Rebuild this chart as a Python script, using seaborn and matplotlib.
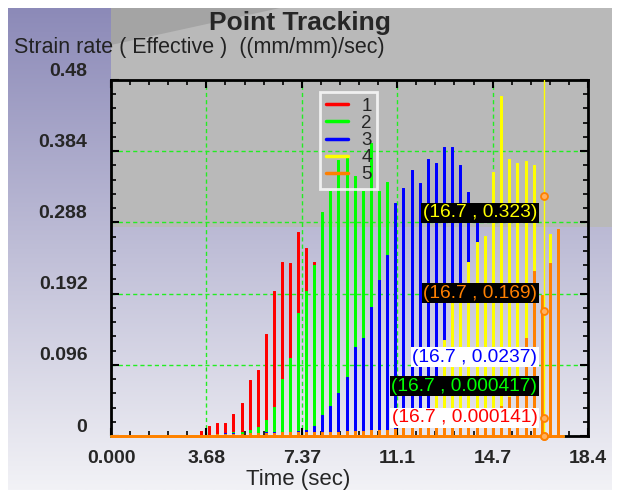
import numpy as np
import pandas as pd
import matplotlib
matplotlib.use("Agg")
import matplotlib.pyplot as plt
import seaborn as sns
from matplotlib.patches import Rectangle, Polygon
from matplotlib.lines import Line2D
from matplotlib.ticker import AutoMinorLocator
import matplotlib.transforms as mtransforms

# spike times (sec), shared by all five tracked points
spike_time = [3.47, 3.78, 4.09, 4.40, 4.71, 5.05, 5.36, 5.67, 5.98, 6.29,
              6.60, 6.91, 7.21, 7.52, 7.83, 8.14, 8.45, 8.76, 9.10, 9.41,
              9.72, 10.03, 10.34, 10.65, 10.96, 11.27, 11.61, 11.92, 12.23, 12.54,
              12.85, 13.16, 13.46, 13.77, 14.12, 14.43, 14.74, 15.05, 15.36, 15.66,
              16.01, 16.32, 16.63, 16.94, 17.25]
t_end = 17.45

rate_1 = [0.007, 0.014, 0.018, 0.018, 0.030, 0.044, 0.076, 0.089, 0.138, 0.196,
          0.235, 0.233, 0.275, 0.253, 0.235, 0.150, 0.100, 0.070, 0.050, 0.035,
          0.025, 0.018, 0.012, 0.009, 0.007, 0.005, 0.004, 0.003, 0.002, 0.002,
          0.001, 0.001, 0.001, 0.001, 0.001, 0.001, 0.001, 0.001, 0.001, 0.001,
          0.001, 0.001, 0.001, 0.001, 0.001]
rate_2 = [0.001, 0.002, 0.003, 0.004, 0.005, 0.006, 0.008, 0.012, 0.022, 0.039,
          0.077, 0.105, 0.166, 0.196, 0.230, 0.302, 0.330, 0.372, 0.375, 0.350,
          0.330, 0.395, 0.330, 0.342, 0.250, 0.160, 0.090, 0.050, 0.030, 0.020,
          0.012, 0.008, 0.006, 0.005, 0.004, 0.003, 0.002, 0.002, 0.001, 0.001,
          0.001, 0.001, 0.001, 0.001, 0.001]
rate_3 = [0.001, 0.001, 0.002, 0.004, 0.004, 0.003, 0.004, 0.004, 0.005, 0.005,
          0.006, 0.006, 0.007, 0.008, 0.013, 0.028, 0.040, 0.058, 0.079, 0.120,
          0.132, 0.174, 0.210, 0.244, 0.314, 0.334, 0.359, 0.341, 0.374, 0.368,
          0.390, 0.390, 0.365, 0.329, 0.287, 0.100, 0.050, 0.030, 0.020, 0.015,
          0.010, 0.008, 0.006, 0.004, 0.003]
rate_4 = [0.001, 0.001, 0.001, 0.001, 0.001, 0.001, 0.001, 0.001, 0.002, 0.002,
          0.002, 0.002, 0.002, 0.002, 0.003, 0.003, 0.003, 0.003, 0.003, 0.003,
          0.004, 0.004, 0.004, 0.004, 0.005, 0.006, 0.008, 0.012, 0.030, 0.060,
          0.129, 0.180, 0.200, 0.235, 0.262, 0.269, 0.356, 0.458, 0.374, 0.368,
          0.371, 0.365, 0.150, 0.272, 0.100]
rate_5 = [0.002, 0.002, 0.003, 0.003, 0.003, 0.003, 0.004, 0.004, 0.004, 0.004,
          0.005, 0.005, 0.005, 0.005, 0.006, 0.006, 0.006, 0.006, 0.007, 0.007,
          0.007, 0.008, 0.008, 0.008, 0.010, 0.012, 0.014, 0.016, 0.018, 0.020,
          0.022, 0.024, 0.026, 0.028, 0.030, 0.030, 0.035, 0.040, 0.053, 0.060,
          0.132, 0.222, 0.190, 0.233, 0.279]

series_names = ["1", "2", "3", "4", "5"]
series_colors = ["#ff0000", "#00ff00", "#0000ff", "#ffff00", "#ff8000"]

# probe readout at the cursor time
cursor_time = 16.7
probe_value = [0.323, 0.169, 0.0237, 0.000417, 0.000141]
probe_text = ["0.323", "0.169", "0.0237", "0.000417", "0.000141"]
probe_color = ["#ffff00", "#ff8000", "#0000ff", "#00ff00", "#ff0000"]
probe_box = ["black", "black", "white", "black", "white"]
probe_label_y = [0.3007, 0.1928, 0.1065, 0.0674, 0.0243]

x_ticks = [0.0, 3.68, 7.36, 11.04, 14.72, 18.4]
x_tick_labels = ["0.000", "3.68", "7.37", "11.1", "14.7", "18.4"]
y_ticks = [0.0, 0.096, 0.192, 0.288, 0.384, 0.48]
y_tick_labels = ["0", "0.096", "0.192", "0.288", "0.384", "0.48"]

# build spike traces: each spike goes 0 -> peak -> 0
frames = []
t = np.asarray(spike_time)
for name, vals in zip(series_names, [rate_1, rate_2, rate_3, rate_4, rate_5]):
    v = np.asarray(vals)
    xs = np.concatenate([[0.0], np.repeat(t, 3), [t_end]])
    ys = np.concatenate([[0.0], np.column_stack([np.zeros_like(v), v, np.zeros_like(v)]).ravel(), [0.0]])
    frames.append(pd.DataFrame({"time": xs, "rate": ys, "series": name}))
df = pd.concat(frames, ignore_index=True)

sns.set_style("ticks")
plt.rcParams['font.family'] = ['Liberation Sans', 'DejaVu Sans']

W, H = 622, 493
fig = plt.figure(figsize=(W / 100, H / 100), dpi=100)
fig.patch.set_facecolor("white")

# background panel
bg = fig.add_axes([0, 0, 1, 1], zorder=-1)
bg.set_xlim(0, W)
bg.set_ylim(H, 0)
bg.axis("off")
top_c = np.array([140, 138, 184]) / 255
bot_c = np.array([242, 242, 246]) / 255
f = np.linspace(0, 1, 256)[:, None]
grad = (top_c[None, :] * (1 - f) + bot_c[None, :] * f)[:, None, :]
bg.imshow(grad, extent=(8, 612, 490, 8), aspect="auto", interpolation="bilinear")
bg.add_patch(Rectangle((111, 8), 501, 219, color="#b9b9b9", lw=0))
bg.add_patch(Polygon([(111, 8), (280, 8), (111, 45)], closed=True, color="#a4a4a4", lw=0))

ax = fig.add_axes([111 / W, 1 - 436 / H, 477 / W, 356 / H])
ax.set_facecolor("none")

sns.lineplot(data=df, x="time", y="rate", hue="series", hue_order=series_names,
             palette=dict(zip(series_names, series_colors)), estimator=None,
             sort=False, legend=False, linewidth=2.1, ax=ax)
for ln in ax.lines:
    ln.set_clip_on(False)
    ln.set_zorder(3)
    ln.set_solid_joinstyle("miter")

ax.axvline(cursor_time, color="#ffff00", lw=1, zorder=4)
ax.plot([cursor_time] * len(probe_value), probe_value, "o", ms=5, mfc="#ffb060",
        mec="#ff8000", mew=1.3, ls="none", zorder=6, clip_on=False)
for txt, col, box, ly in zip(probe_text, probe_color, probe_box, probe_label_y):
    ax.text(16.45, ly, f"({cursor_time} , {txt})", color=col, fontsize=13.8,
            ha="right", va="center", zorder=7,
            bbox=dict(boxstyle="square,pad=0.1", fc=box, ec="none"))

ax.set_xlim(0, 18.4)
ax.set_ylim(0, 0.48)
ax.set_xticks(x_ticks)
ax.set_xticklabels(x_tick_labels, fontsize=14, fontweight="bold")
ax.set_yticks(y_ticks)
ax.set_yticklabels(y_tick_labels, fontsize=14, fontweight="bold")
ax.xaxis.set_minor_locator(AutoMinorLocator(5))
ax.yaxis.set_minor_locator(AutoMinorLocator(5))
ax.tick_params(which="both", direction="in", top=True, right=True, color="black")
ax.tick_params(which="major", length=6, width=1.5)
ax.tick_params(which="minor", length=3.5, width=1.2)
ax.tick_params(axis="x", which="major", pad=10)
ax.tick_params(axis="y", which="major", pad=17)
shift = mtransforms.ScaledTranslation(0, 11 / 100, fig.dpi_scale_trans)
for lab in ax.get_yticklabels():
    lab.set_transform(lab.get_transform() + shift)

ax.grid(True, which="major", color="#22ee22", lw=1, linestyle=(0, (3, 2.2)))
for s in ax.spines.values():
    s.set_linewidth(2)
    s.set_color("black")

ax.set_xlabel("Time (sec)", fontsize=16)
ax.xaxis.set_label_coords((298 - 111) / 477, (436 - 479) / 356)
ax.xaxis.label.set_va("center")
ax.set_ylabel("Strain rate ( Effective )  ((mm/mm)/sec)", fontsize=15.5,
              rotation=0, ha="left", va="center", color="#222222")
ax.yaxis.set_label_coords((14 - 111) / 477, (436 - 47) / 356)

fig.suptitle("Point Tracking", x=300 / W, y=1 - 23 / H, va="center",
             fontsize=19, fontweight="bold")

handles = [Line2D([], [], color=c, lw=2.5) for c in series_colors]
leg = ax.legend(handles, series_names, loc="upper left", bbox_to_anchor=(0.438, 0.966),
                borderaxespad=0, fancybox=False, facecolor="none", edgecolor="white",
                prop={"size": 13.5}, handlelength=1.2,
                handletextpad=0.7, labelspacing=0.0, borderpad=0.3)
leg.get_frame().set_linewidth(2)
leg.set_zorder(8)

plt.savefig("out.png", dpi=100)
